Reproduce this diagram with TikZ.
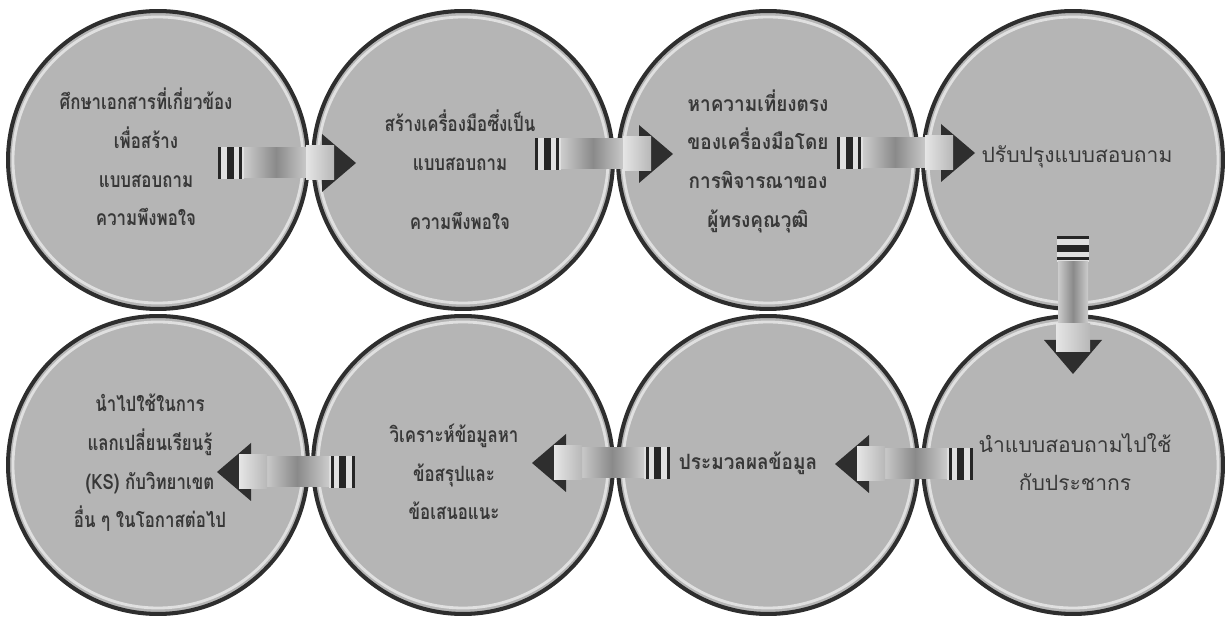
\documentclass[tikz,border=0pt]{standalone}
\usepackage{fontspec}
\newfontfamily\thaifont[Script=Thai,FakeStretch=0.8]{Loma}
\newfontfamily\thaimid[Script=Thai,FakeStretch=0.9]{Loma}
\newfontfamily\thaiwide[Script=Thai]{Loma}
\usetikzlibrary{shapes.geometric,calc}
\tikzset{
  bubble/.style   = {ellipse, draw=black!82, line width=2.3pt, fill=black!29,
                     minimum width=6.0cm, minimum height=5.96cm, inner sep=0pt},
  rimline/.style  = {black!12, line width=1.6pt},
  steptext/.style = {font=\thaifont\bfseries\fontsize{12}{22}\selectfont,
                     text=black!78, align=center, inner sep=0pt},
  midtext/.style  = {steptext, font=\thaimid\bfseries\fontsize{12}{22}\selectfont},
  widetext/.style = {steptext, font=\thaiwide\fontsize{12}{22}\selectfont},
  flowarr/.pic    = {
    % tail with its three bars
    \fill[black!12] (0,-16) rectangle (26,16);
    \fill[black!85] (0,-16) rectangle (3,16);
    \fill[black!85] (9,-16) rectangle (16,16);
    \fill[black!85] (21,-16) rectangle (24,16);
    % shaded shaft
    \shade[left color=black!20, right color=black!20, middle color=black!46]
      (26,-15) rectangle (90,15);
    % dark head, light collar in front of its base
    \fill[black!82] (104,-29) -- (138,0) -- (104,29) -- cycle;
    \shade[left color=black!10, right color=black!28] (88,-17) rectangle (116,17);
  }
}

\begin{document}
\begin{tikzpicture}[x=0.02cm,y=-0.02cm]
  \useasboundingbox (0,0) rectangle (1232,621);
  % --- the eight steps --------------------------------------------------
  \node[bubble] (c1) at (158,160) {};
  \node[bubble] (c2) at (463,160) {};
  \node[bubble] (c3) at (768,160) {};
  \node[bubble] (c4) at (1073,160) {};
  \node[bubble] (c5) at (1073,465) {};
  \node[bubble] (c6) at (768,465) {};
  \node[bubble] (c7) at (463,465) {};
  \node[bubble] (c8) at (158,465) {};
  % light rim just inside each outline
  \foreach \i in {1,...,8}
    \draw[rimline] (c\i.center) ellipse [x radius=145, y radius=143];

  % --- block arrows, top row to the right, then down, then to the left ---
  \pic at ($(c1)+(60,3)$) {flowarr};
  \pic at ($(c2)+(72,-6)$) {flowarr};
  \pic at ($(c3)+(69,-7)$) {flowarr};
  \pic[rotate=-90] at ($(c4)+(0,76)$) {flowarr};
  \pic[rotate=180] at ($(c5)+(-100,-1)$) {flowarr};
  \pic[rotate=180] at ($(c6)+(-98,-2)$) {flowarr};
  \pic[rotate=180] at ($(c7)+(-108,7)$) {flowarr};

  % --- texts --------------------------------------------------------------
  \node[steptext] (t1) at ($(c1)+(-12,-3)$)
        {ศึกษาเอกสารที่เกี่ยวข้อง\\ เพื่อสร้าง\\ แบบสอบถาม\\ ความพึงพอใจ};
  \node[steptext] (t2) at ($(c2)+(-3,10)$)
        {สร้างเครื่องมือซึ่งเป็น\\ แบบสอบถาม\\[0.42cm] ความพึงพอใจ};
  \node[midtext] (t3) at ($(c3)+(-10,1)$)
        {หาความเที่ยงตรง\\ ของเครื่องมือโดย\\ การพิจารณาของ\\ ผู้ทรงคุณวุฒิ};
  \node[widetext] (t4) at ($(c4)+(4,-3)$) {ปรับปรุงแบบสอบถาม};
  \node[widetext] (t5) at ($(c5)+(2,-3)$) {นำแบบสอบถามไปใช้\\ กับประชากร};
  \node[midtext] (t6) at ($(c6)+(-20,-2)$) {ประมวลผลข้อมูล};
  \node[steptext] (t7) at ($(c7)+(-9,7)$)
        {วิเคราะห์ข้อมูลหา\\ ข้อสรุปและ\\ ข้อเสนอแนะ};
  \node[steptext] (t8) at ($(c8)+(-8,-2)$)
        {นำไปใช้ในการ\\ แลกเปลี่ยนเรียนรู้\\ (KS) กับวิทยาเขต\\ อื่น ๆ ในโอกาสต่อไป};
\end{tikzpicture}
\end{document}
